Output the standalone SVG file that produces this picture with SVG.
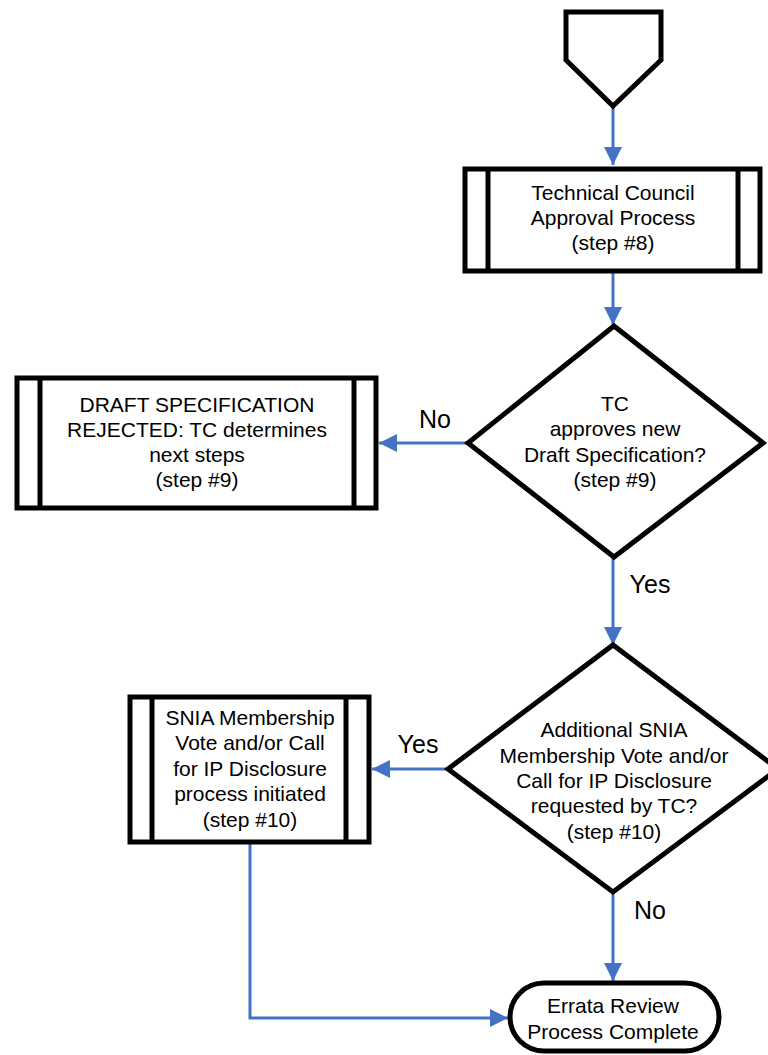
<svg xmlns="http://www.w3.org/2000/svg" width="768" height="1055" viewBox="0 0 768 1055">
<defs>
<marker id="ah" markerUnits="userSpaceOnUse" markerWidth="20" markerHeight="20" viewBox="0 0 20 20" refX="18" refY="10" orient="auto">
<path d="M0,1 L18,10 L0,19 Z" fill="#4472C4"/>
</marker>
<style>
.shape{fill:#fff;stroke:#000;stroke-width:5;stroke-linejoin:miter}
.bar{stroke:#000;stroke-width:5;fill:none}
.con{stroke:#4472C4;stroke-width:3;fill:none}
text{font-family:"Liberation Sans",Arial,sans-serif;font-size:21px;fill:#000}
.c{text-anchor:middle}
.lbl{font-size:25px}
</style>
</defs>
<rect width="768" height="1055" fill="#fff"/>
<g id="connectors">
<path class="con" d="M613,106 V165" marker-end="url(#ah)"/>
<path class="con" d="M613,273 V325" marker-end="url(#ah)"/>
<path class="con" d="M468,443 H379" marker-end="url(#ah)"/>
<path class="con" d="M613,557 V645" marker-end="url(#ah)"/>
<path class="con" d="M448,769 H372" marker-end="url(#ah)"/>
<path class="con" d="M613,892 V981" marker-end="url(#ah)"/>
<path class="con" d="M250,843 V1018 H508" marker-end="url(#ah)"/>
<text x="435" y="428" class="lbl c">No</text>
<text x="650" y="593" class="lbl c">Yes</text>
<text x="418" y="753" class="lbl c">Yes</text>
<text x="650" y="919" class="lbl c">No</text>
</g>
<g id="start">
<polygon class="shape" points="566,12 661,12 661,60 613,106 566,60"/>
</g>
<g id="tc-approval">
<rect class="shape" x="465" y="169" width="295" height="102"/>
<line class="bar" x1="488" y1="169" x2="488" y2="271"/>
<line class="bar" x1="738" y1="169" x2="738" y2="271"/>
<text class="c" x="613" y="200">Technical Council</text>
<text class="c" x="613" y="225">Approval Process</text>
<text class="c" x="613" y="250">(step #8)</text>
</g>
<g id="tc-decision">
<polygon class="shape" points="614,326 763,443 614,557 468,443"/>
<text class="c" x="615" y="411">TC</text>
<text class="c" x="615" y="436">approves new</text>
<text class="c" x="615" y="462">Draft Specification?</text>
<text class="c" x="615" y="487">(step #9)</text>
</g>
<g id="rejected">
<rect class="shape" x="17" y="378" width="359" height="130"/>
<line class="bar" x1="40" y1="378" x2="40" y2="508"/>
<line class="bar" x1="354" y1="378" x2="354" y2="508"/>
<text class="c" x="197" y="412">DRAFT SPECIFICATION</text>
<text class="c" x="197" y="437">REJECTED: TC determines</text>
<text class="c" x="197" y="462">next steps</text>
<text class="c" x="197" y="487">(step #9)</text>
</g>
<g id="vote-decision">
<polygon class="shape" points="613,645 778,769 613,892 448,769"/>
<text class="c" x="614" y="737">Additional SNIA</text>
<text class="c" x="614" y="763">Membership Vote and/or</text>
<text class="c" x="614" y="788">Call for IP Disclosure</text>
<text class="c" x="614" y="813">requested by TC?</text>
<text class="c" x="614" y="839">(step #10)</text>
</g>
<g id="vote-process">
<rect class="shape" x="130" y="697" width="239" height="145"/>
<line class="bar" x1="152" y1="697" x2="152" y2="842"/>
<line class="bar" x1="346" y1="697" x2="346" y2="842"/>
<text class="c" x="250" y="725">SNIA Membership</text>
<text class="c" x="250" y="750">Vote and/or Call</text>
<text class="c" x="250" y="776">for IP Disclosure</text>
<text class="c" x="250" y="801">process initiated</text>
<text class="c" x="250" y="827">(step #10)</text>
</g>
<g id="end">
<rect class="shape" x="510" y="983" width="209" height="68" rx="34" ry="34"/>
<text class="c" x="613" y="1013">Errata Review</text>
<text class="c" x="613" y="1039">Process Complete</text>
</g>
</svg>
